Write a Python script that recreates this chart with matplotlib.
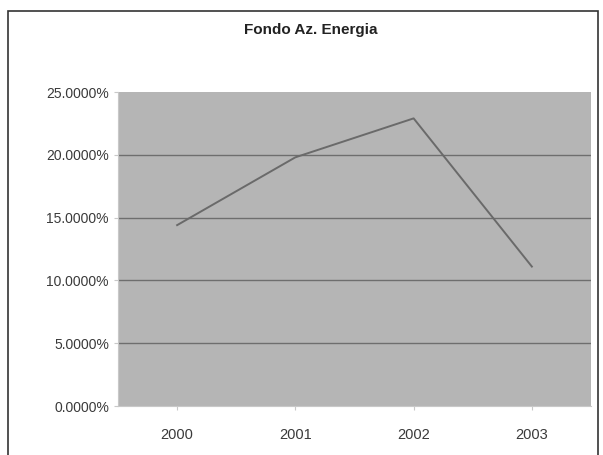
import matplotlib
matplotlib.use("Agg")
import matplotlib.pyplot as plt
from matplotlib.patches import Rectangle
from matplotlib.ticker import FuncFormatter

# data
years = ["2000", "2001", "2002", "2003"]
values = [14.4, 19.8, 22.9, 11.1]  # percent
y_ticks = [0, 5, 10, 15, 20, 25]

plt.rcParams['font.family'] = ['Liberation Sans', 'DejaVu Sans']

fig = plt.figure(figsize=(6.03, 4.55), dpi=100)
fig.patch.set_facecolor("white")

# outer chart border (cut at right/bottom like the screenshot)
fig.patches.append(Rectangle((8 / 603, -0.05), (598 - 8) / 603, 1.05 - 11 / 455,
                             transform=fig.transFigure, fill=False,
                             edgecolor="#333333", linewidth=1.2))

ax = fig.add_axes([118 / 603, 1 - 406 / 455, 473 / 603, 314 / 455])
ax.set_facecolor("#b5b5b5")

x = list(range(len(years)))
ax.plot(x, values, color="#6a6a6a", linewidth=1.4, zorder=3)

ax.set_xlim(-0.5, len(years) - 0.5)
ax.set_ylim(0, 25)
ax.set_yticks(y_ticks)
ax.yaxis.set_major_formatter(FuncFormatter(lambda v, p: "%.4f%%" % v))
ax.set_xticks(x)
ax.set_xticklabels(years)

# gridlines only inside the plot area (not on the 0 / 25 edges)
for v in y_ticks[1:-1]:
    ax.axhline(v, color="#6e6e6e", linewidth=1.0, zorder=1)

for s in ["top", "right"]:
    ax.spines[s].set_visible(False)
ax.spines["left"].set_color("#c8c8c8")
ax.spines["bottom"].set_color("#c8c8c8")

ax.tick_params(axis="both", labelsize=10, colors="#c8c8c8", labelcolor="#3a3a3a",
               length=3)
ax.tick_params(axis="x", pad=13, labelsize=10.5)

fig.text(311 / 603, 1 - 30 / 455, "Fondo Az. Energia", ha="center", va="center",
         fontsize=11, fontweight="bold", color="#222222")

fig.savefig("out.png", dpi=100)
